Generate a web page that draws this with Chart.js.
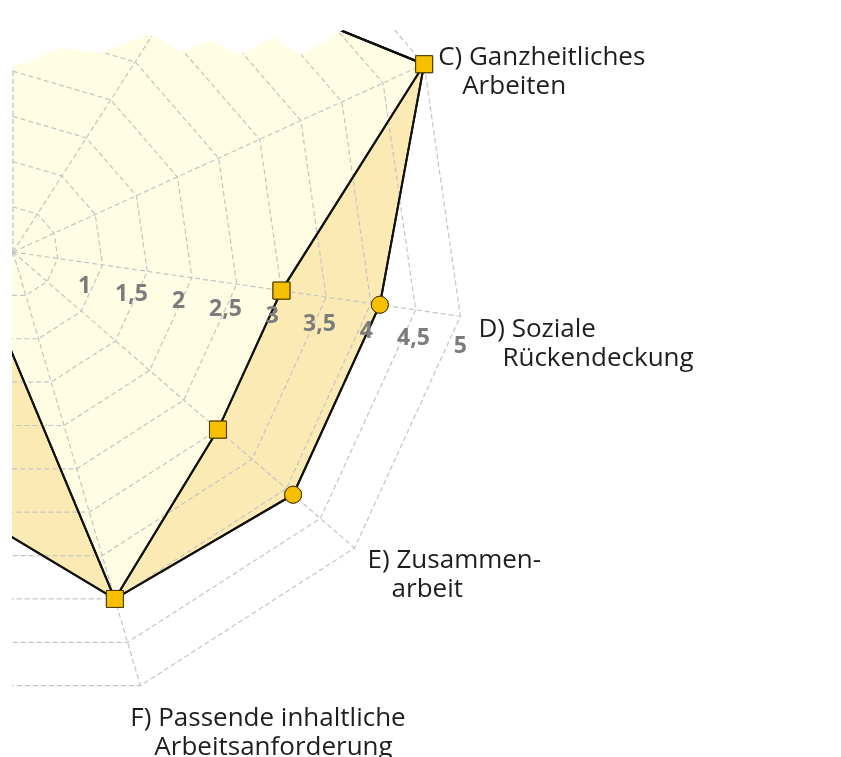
<!DOCTYPE html>
<html><head><meta charset="utf-8">
<script src="https://cdn.jsdelivr.net/npm/chart.js@4.4.1/dist/chart.umd.min.js"></script>
<style>
html,body{margin:0;padding:0;background:#fff;width:841px;height:757px;overflow:hidden;}
#clip{position:absolute;left:0;top:0;width:841px;height:757px;overflow:hidden;
clip-path:polygon(12px 68px,60px 48px,100px 53px,147px 35px,157px 37px,180px 52px,210px 40px,240px 55px,273px 37px,300px 55px,343px 30px,841px 30px,841px 757px,12px 757px);}
#c{position:absolute;left:-439px;top:-200px;}
</style></head>
<body><div id="clip"><canvas id="c" width="1280" height="960"></canvas></div>
<script>
// Categories (KFZA-Skalen), each as lines of text
const categories = [
  ['A) Handlungsspielraum'],
  ['B) Vielseitiges', 'Arbeiten'],
  ['C) Ganzheitliches', 'Arbeiten'],
  ['D) Soziale', 'Rückendeckung'],
  ['E) Zusammen-', 'arbeit'],
  ['F) Passende inhaltliche', 'Arbeitsanforderung'],
  ['G) Passende mengenmäßige', 'Arbeit'],
  ['H) Wenige Arbeits-', 'unterbrechungen'],
  ['I) Gute Arbeits-', 'umgebung'],
  ['J) Information und', 'Mitsprache'],
  ['K) Betriebliche', 'Leistungen']
];
const seriesSquares = [4, 3.7, 5, 3, 3, 4, 0.7, 2, 3, 2.5, 3.5];
const seriesCircles = [4, 3.7, 5, 4.1, 4.1, 4, 2.8, 3.5, 3.8, 3.5, 4];
const tickValues = [1, 1.5, 2, 2.5, 3, 3.5, 4, 4.5, 5];
const tickLabels = ['1', '1,5', '2', '2,5', '3', '3,5', '4', '4,5', '5'];
const scaleMin = 0, scaleMax = 5, scaleStep = 0.5;

const labelOffsets = {2: [14, 1], 3: [18, 21], 4: [13, 20], 5: [-10, 40]};
const tickAxisIndex = 3;

const overlayPlugin = {
  id: 'overlay',
  afterDraw(chart) {
    const ctx = chart.ctx;
    const scale = chart.scales.r;
    // redraw lines and points above the grid
    for (let d = chart.data.datasets.length - 1; d >= 0; d--) {
      const meta = chart.getDatasetMeta(d);
      meta.dataset.draw(ctx, chart.chartArea);
      meta.data.forEach(p => p.draw(ctx, chart.chartArea));
    }
    ctx.save();
    // tick labels along axis D
    ctx.font = 'bold 23px "Open Sans", "DejaVu Sans", sans-serif';
    ctx.fillStyle = '#7c7c7c';
    ctx.textAlign = 'center';
    ctx.textBaseline = 'middle';
    tickValues.forEach((v, i) => {
      const p = scale.getPointPositionForValue(tickAxisIndex, v);
      const dx = -18 + 4.5 * (v - 1);
      const dy = 22 + 2 * (v - 1);
      ctx.fillText(tickLabels[i], p.x + dx, p.y + dy);
    });
    // category labels
    ctx.font = '26px "Open Sans", "Noto Sans", sans-serif';
    ctx.fillStyle = '#1e1e1e';
    ctx.textBaseline = 'alphabetic';
    categories.forEach((lines, i) => {
      const p = scale.getPointPositionForValue(i, scaleMax);
      const off = labelOffsets[i] || [0, 0];
      const left = p.x >= scale.xCenter - 2;
      ctx.textAlign = left ? 'left' : 'right';
      const sx = left ? 1 : -1;
      const x0 = p.x + (labelOffsets[i] ? off[0] : sx * 15);
      const y0 = p.y + off[1];
      lines.forEach((t, k) => {
        ctx.fillText(t, x0 + (k > 0 ? 24 * sx : 0), y0 + k * 29);
      });
    });
    ctx.restore();
  }
};

new Chart(document.getElementById('c'), {
  type: 'radar',
  data: {
    labels: categories,
    datasets: [
      {
        data: seriesSquares,
        fill: true,
        backgroundColor: '#FFFDE3',
        borderColor: '#111111',
        borderWidth: 2,
        pointStyle: 'rect',
        pointRadius: 12,
        pointBackgroundColor: '#F6C000',
        pointBorderColor: '#4a3800',
        pointBorderWidth: 1
      },
      {
        data: seriesCircles,
        fill: true,
        backgroundColor: '#FCEAB4',
        borderColor: '#111111',
        borderWidth: 2,
        pointStyle: 'circle',
        pointRadius: 8.5,
        pointBackgroundColor: '#F6C000',
        pointBorderColor: '#4a3800',
        pointBorderWidth: 1
      }
    ]
  },
  options: {
    responsive: false,
    animation: false,
    devicePixelRatio: 1,
    layout: {padding: {left: 0, top: 0, right: 376, bottom: 56}},
    plugins: {legend: {display: false}, tooltip: {enabled: false}},
    elements: {line: {tension: 0}},
    scales: {
      r: {
        min: scaleMin,
        max: scaleMax,
        ticks: {display: false, stepSize: scaleStep, z: 1},
        pointLabels: {display: false},
        grid: {color: '#c4c4c4', lineWidth: 1.2, z: 1},
        border: {dash: [5, 3], z: 1},
        angleLines: {color: '#c4c4c4', lineWidth: 1.2, borderDash: [5, 3]}
      }
    }
  },
  plugins: [overlayPlugin]
});
</script>
</body></html>
